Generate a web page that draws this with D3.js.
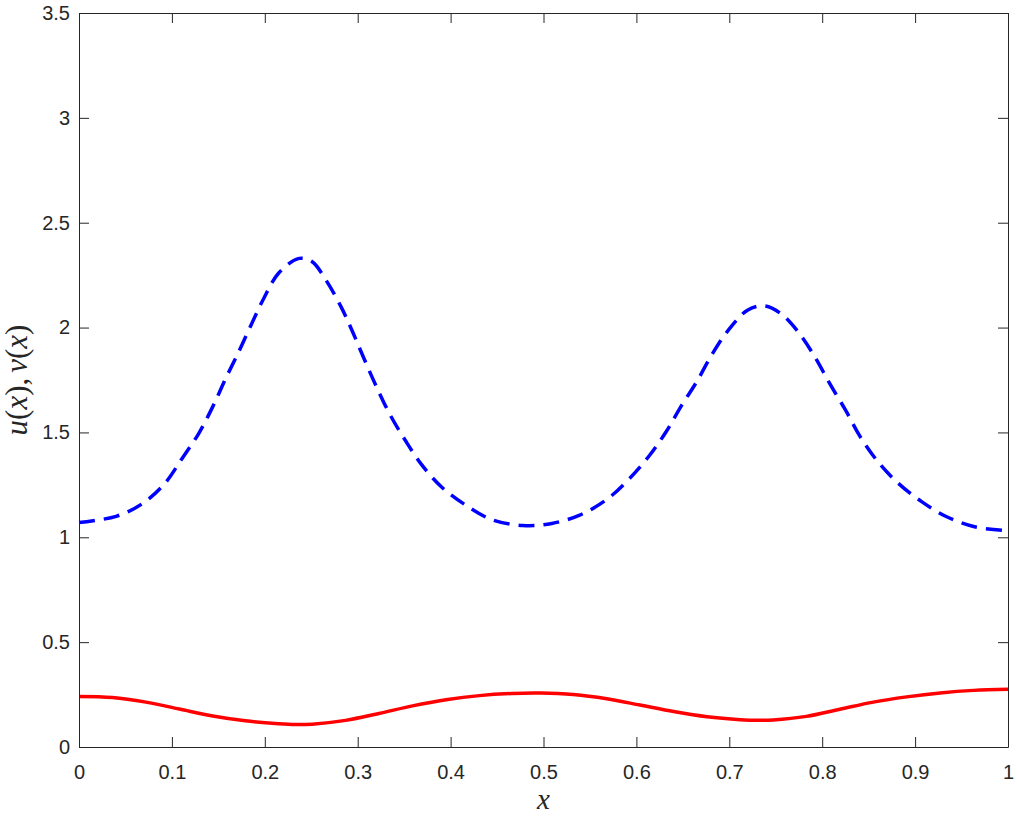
<!DOCTYPE html>
<html>
<head>
<meta charset="utf-8">
<script src="https://cdn.jsdelivr.net/npm/d3@7"></script>
<style>
  body { margin: 0; background: #fff; }
  svg text { font-family: "Liberation Sans", Arial, sans-serif; }
</style>
</head>
<body>
<script>
// v(x): blue dashed
const vX = [0, 0.04, 0.068, 0.092, 0.111, 0.129, 0.144, 0.158, 0.172, 0.185, 0.199, 0.215, 0.237, 0.251, 0.266, 0.282, 0.294, 0.307, 0.321, 0.335, 0.351, 0.369, 0.39, 0.416, 0.444, 0.478, 0.509, 0.539, 0.568, 0.591, 0.613, 0.632, 0.649, 0.665, 0.681, 0.699, 0.72, 0.738, 0.755, 0.774, 0.792, 0.808, 0.825, 0.841, 0.86, 0.882, 0.907, 0.934, 0.964, 1.0];
const vY = [1.07, 1.1, 1.16, 1.255, 1.376, 1.496, 1.623, 1.758, 1.885, 2.01, 2.14, 2.26, 2.33, 2.314, 2.225, 2.1, 1.985, 1.85, 1.71, 1.583, 1.464, 1.345, 1.241, 1.154, 1.085, 1.056, 1.066, 1.106, 1.18, 1.273, 1.384, 1.503, 1.631, 1.742, 1.869, 1.988, 2.084, 2.103, 2.068, 1.98, 1.861, 1.734, 1.607, 1.479, 1.36, 1.257, 1.17, 1.098, 1.05, 1.031];

// u(x): red solid
const uX = [0, 0.036, 0.072, 0.108, 0.144, 0.179, 0.215, 0.233, 0.251, 0.287, 0.323, 0.359, 0.395, 0.431, 0.466, 0.497, 0.532, 0.568, 0.604, 0.64, 0.676, 0.712, 0.73, 0.747, 0.783, 0.819, 0.855, 0.891, 0.927, 0.963, 1.0];
const uY = [0.241, 0.236, 0.214, 0.181, 0.148, 0.125, 0.111, 0.107, 0.109, 0.127, 0.16, 0.196, 0.225, 0.245, 0.255, 0.257, 0.25, 0.23, 0.2, 0.169, 0.144, 0.13, 0.127, 0.129, 0.146, 0.18, 0.214, 0.239, 0.258, 0.27, 0.275];

const xTicks = [0, 0.1, 0.2, 0.3, 0.4, 0.5, 0.6, 0.7, 0.8, 0.9, 1];
const yTicks = [0, 0.5, 1, 1.5, 2, 2.5, 3, 3.5];

const W = 1017, H = 819;
const mLeft = 79, mRight = 1008, mTop = 13, mBottom = 747;
const axisColor = "#262626";

const svg = d3.select("body").append("svg")
    .attr("width", W).attr("height", H);

const x = d3.scaleLinear().domain([0, 1]).range([mLeft, mRight]);
const y = d3.scaleLinear().domain([0, 3.5]).range([mBottom, mTop]);

const line = d3.line().curve(d3.curveCatmullRom.alpha(0.5));

svg.append("path")
    .datum(uX.map((d, i) => [x(d), y(uY[i])]))
    .attr("fill", "none")
    .attr("stroke", "#ff0000")
    .attr("stroke-width", 3.5)
    .attr("d", line);

svg.append("path")
    .datum(vX.map((d, i) => [x(d), y(vY[i])]))
    .attr("fill", "none")
    .attr("stroke", "#0000ff")
    .attr("stroke-width", 3.5)
    .attr("stroke-dasharray", "16,9")
    .attr("d", line);

// axes (box with inward ticks on all sides)
const fmt = d => d3.format("")(d);
svg.append("g")
    .attr("transform", `translate(0,${mBottom})`)
    .call(d3.axisBottom(x).tickValues(xTicks).tickSizeInner(-10).tickSizeOuter(0).tickPadding(18).tickFormat(fmt))
    .call(g => g.selectAll("text").attr("font-size", 20).attr("fill", axisColor));
svg.append("g")
    .attr("transform", `translate(0,${mTop})`)
    .call(d3.axisTop(x).tickValues(xTicks).tickSizeInner(-10).tickSizeOuter(0).tickFormat(""));
svg.append("g")
    .attr("transform", `translate(${mLeft},0)`)
    .call(d3.axisLeft(y).tickValues(yTicks).tickSizeInner(-10).tickSizeOuter(0).tickPadding(9).tickFormat(fmt))
    .call(g => g.selectAll("text").attr("font-size", 20).attr("fill", axisColor));
svg.append("g")
    .attr("transform", `translate(${mRight},0)`)
    .call(d3.axisRight(y).tickValues(yTicks).tickSizeInner(-10).tickSizeOuter(0).tickFormat(""));

svg.selectAll(".domain, .tick line").attr("stroke", axisColor).attr("stroke-width", 1);

// axis labels
svg.append("text")
    .attr("x", (mLeft + mRight) / 2).attr("y", 809)
    .attr("text-anchor", "middle")
    .style("font-family", "'Liberation Serif', 'DejaVu Serif', serif")
    .style("font-style", "italic")
    .attr("font-size", 29)
    .attr("fill", axisColor)
    .text("x");

const yl = svg.append("text")
    .attr("transform", `translate(27,${(mTop + mBottom) / 2}) rotate(-90)`)
    .attr("text-anchor", "middle")
    .style("font-family", "'Liberation Serif', 'DejaVu Serif', serif")
    .attr("font-size", 31)
    .attr("fill", axisColor);
const ylParts = [["u", true], ["(", false], ["x", true], [")", false], [",", false],
                 ["v", true], ["(", false], ["x", true], [")", false]];
ylParts.forEach(([t, it]) => {
    yl.append("tspan").style("font-style", it ? "italic" : "normal")
        .attr("dx", t === "v" ? 5 : 0).text(t);
});
</script>
</body>
</html>
